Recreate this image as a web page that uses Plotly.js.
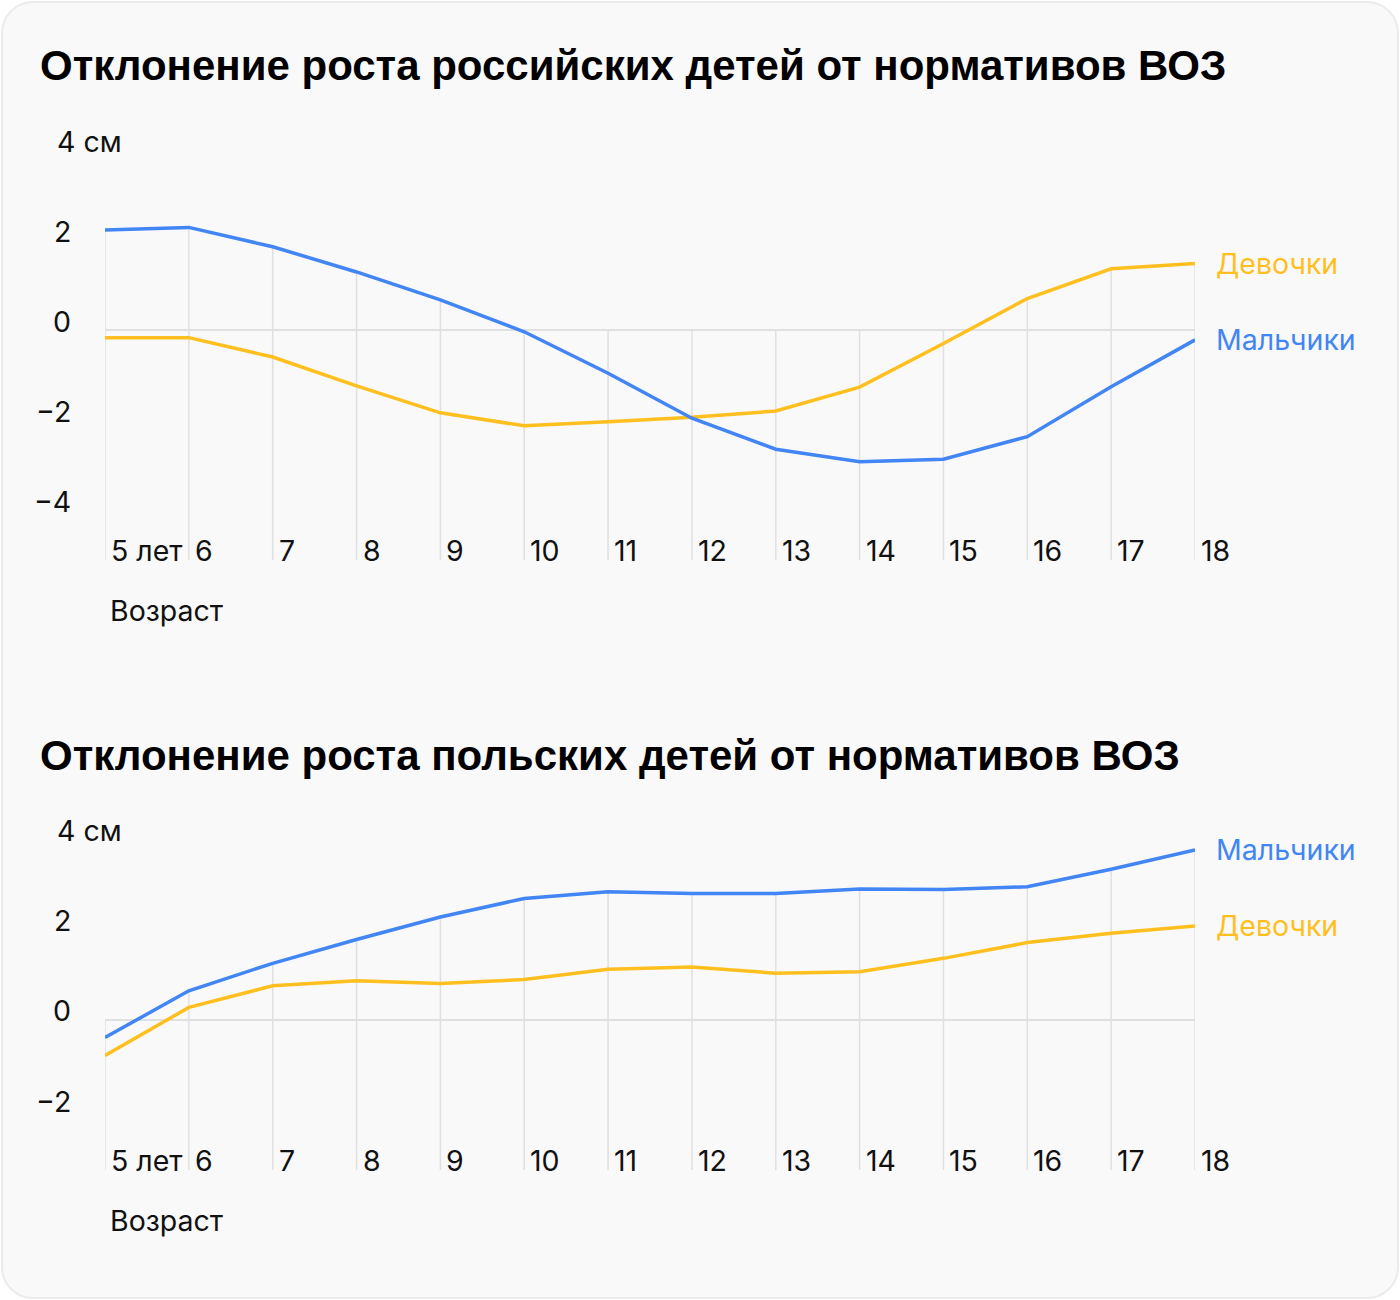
<!DOCTYPE html>
<html>
<head>
<meta charset="utf-8">
<script src="https://cdn.plot.ly/plotly-3.0.1.min.js"></script>
<style>
  body { margin: 0; background: #ffffff; }
  #card {
    position: absolute; left: 1px; top: 1px; width: 1398px; height: 1298px;
    box-sizing: border-box; border: 2px solid #ebebeb; border-radius: 32px;
    background: #f9f9f9;
  }
  #chart { position: absolute; left: 0; top: 0; width: 1400px; height: 1300px; }
</style>
</head>
<body>
<div id="card"></div>
<div id="chart"></div>
<script>
'use strict';

// ages and tick labels
const ages = [5, 6, 7, 8, 9, 10, 11, 12, 13, 14, 15, 16, 17, 18];
const ageLabels = ['5 лет', '6', '7', '8', '9', '10', '11', '12', '13', '14', '15', '16', '17', '18'];

// Russia, cm deviation from WHO
const ruBoys = [2.22, 2.28, 1.85, 1.29, 0.67, -0.04, -0.96, -1.96, -2.65, -2.93, -2.87, -2.37, -1.26, -0.22];
const ruGirls = [-0.17, -0.17, -0.6, -1.24, -1.84, -2.13, -2.04, -1.94, -1.8, -1.27, -0.3, 0.7, 1.36, 1.48];

// Poland, cm deviation from WHO
const plBoys = [-0.39, 0.65, 1.26, 1.79, 2.29, 2.70, 2.85, 2.81, 2.81, 2.91, 2.90, 2.96, 3.35, 3.78];
const plGirls = [-0.79, 0.28, 0.76, 0.87, 0.81, 0.9, 1.13, 1.18, 1.04, 1.07, 1.37, 1.72, 1.93, 2.09];

const ruTicks = [4, 2, 0, -2, -4];
const plTicks = [4, 2, 0, -2];

const titles = [
  'Отклонение роста российских детей от нормативов ВОЗ',
  'Отклонение роста польских детей от нормативов ВОЗ'
];

const W = 1400, H = 1300;
const BLUE = '#4285f4';
const YELLOW = '#ffbf1f';
const GRID = '#e0e0e0';
const FONT = 'Inter, Roboto, sans-serif';
const PER_UNIT = 45; // px per cm

const px = x => x / W;
const py = y => 1 - y / H;

// panel geometry in pixels
const panels = [
  { boys: ruBoys, girls: ruGirls, ticks: ruTicks, title: titles[0], titleY: 65, top: 140, zero: 330, bottom: 560, labelY: 550, axisTitleY: 610 },
  { boys: plBoys, girls: plGirls, ticks: plTicks, title: titles[1], titleY: 755, top: 830, zero: 1020, bottom: 1170, labelY: 1160, axisTitleY: 1220 }
];

const data = [];
const annotations = [];
const layout = {
  width: W,
  height: H,
  margin: { l: 0, r: 0, t: 0, b: 0 },
  paper_bgcolor: 'rgba(0,0,0,0)',
  plot_bgcolor: 'rgba(0,0,0,0)',
  showlegend: false,
  font: { family: FONT, size: 28.5, color: '#111111' },
  annotations: annotations
};

panels.forEach((p, i) => {
  const n = i === 0 ? '' : '2';
  const xa = 'x' + n, ya = 'y' + n;
  const yMax = (p.zero - p.top) / PER_UNIT;
  const yMin = (p.zero - p.bottom) / PER_UNIT;

  layout['xaxis' + n] = {
    domain: [px(105), px(1195)],
    range: [ages[0], ages[ages.length - 1]],
    showgrid: false, zeroline: false, showline: false, showticklabels: false, ticks: '',
    anchor: ya
  };
  layout['yaxis' + n] = {
    domain: [py(p.bottom), py(p.top)],
    range: [yMin, yMax],
    showgrid: false, showline: false, showticklabels: false, ticks: '',
    zeroline: true, zerolinecolor: GRID, zerolinewidth: 1.5,
    anchor: xa
  };

  // drop lines from the highest point (or zero) down to the axis bottom
  const dx = [], dy = [];
  ages.forEach((a, k) => {
    dx.push(a, a, null);
    dy.push(Math.max(0, p.boys[k], p.girls[k]), yMin, null);
  });
  data.push({
    x: dx, y: dy, xaxis: xa, yaxis: ya, mode: 'lines', hoverinfo: 'skip',
    line: { color: GRID, width: 1.5 }
  });

  data.push({
    x: ages, y: p.girls, xaxis: xa, yaxis: ya, mode: 'lines', name: 'Девочки',
    line: { color: YELLOW, width: 3.5 }
  });
  data.push({
    x: ages, y: p.boys, xaxis: xa, yaxis: ya, mode: 'lines', name: 'Мальчики',
    line: { color: BLUE, width: 3.5 }
  });

  const last = ages.length - 1;
  annotations.push({
    x: ages[last], y: p.girls[last], xref: xa, yref: ya, text: 'Девочки',
    xanchor: 'left', yanchor: 'middle', xshift: 19, showarrow: false,
    font: { color: YELLOW }
  });
  annotations.push({
    x: ages[last], y: p.boys[last], xref: xa, yref: ya, text: 'Мальчики',
    xanchor: 'left', yanchor: 'middle', xshift: 19, showarrow: false,
    font: { color: BLUE }
  });

  // y tick labels, sitting a bit above their value
  p.ticks.forEach((t, k) => {
    const txt = t < 0 ? '\u2212' + Math.abs(t) : String(t);
    annotations.push({
      x: k === 0 ? px(55) : px(73), xref: 'paper', y: t, yref: ya,
      text: k === 0 ? txt + ' см' : txt,
      xanchor: k === 0 ? 'left' : 'right', yanchor: 'middle', yshift: 9,
      showarrow: false
    });
  });

  // x tick labels, left aligned next to each drop line
  ages.forEach((a, k) => {
    annotations.push({
      x: a, xref: xa, y: py(p.labelY), yref: 'paper', text: ageLabels[k],
      xanchor: 'left', yanchor: 'middle', xshift: 4, showarrow: false
    });
  });

  annotations.push({
    x: px(108), xref: 'paper', y: py(p.axisTitleY), yref: 'paper', text: 'Возраст',
    xanchor: 'left', yanchor: 'middle', showarrow: false
  });

  annotations.push({
    x: px(38), xref: 'paper', y: py(p.titleY), yref: 'paper', text: '<b>' + p.title + '</b>',
    xanchor: 'left', yanchor: 'middle', showarrow: false,
    font: { family: 'Liberation Sans, Arial, sans-serif', size: 42, color: '#000000' }
  });
});

Plotly.newPlot('chart', data, layout, { displayModeBar: false, staticPlot: true });
</script>
</body>
</html>
